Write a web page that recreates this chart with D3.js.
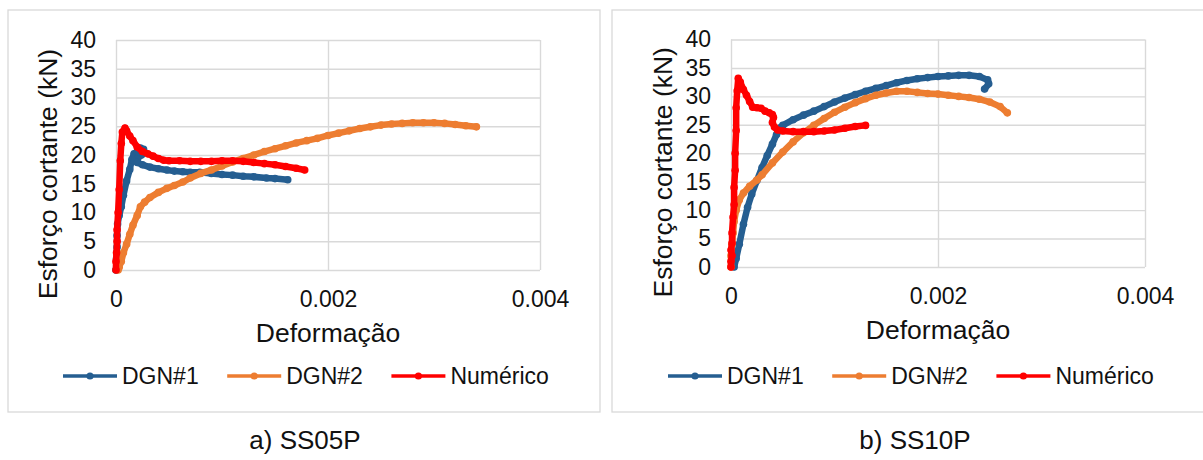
<!DOCTYPE html>
<html>
<head>
<meta charset="utf-8">
<script src="https://cdn.jsdelivr.net/npm/d3@7"></script>
<style>
  body { margin: 0; background: #fff; }
  svg { display: block; }
  text { font-family: "Liberation Sans", Arial, sans-serif; fill: #111; }
</style>
</head>
<body>
<svg id="chart" width="1203" height="460"></svg>
<script>
// ---------- DATA ----------
const seriesNames = ["DGN#1", "DGN#2", "Numérico"];
const seriesColors = ["#255e91", "#ed7d31", "#ff0000"];
const yTicks = [0, 5, 10, 15, 20, 25, 30, 35, 40];
const xTicks = [0, 0.002, 0.004];
const xTickLabels = ["0", "0.002", "0.004"];
const xTitle = "Deformação";
const yTitle = "Esforço cortante (kN)";
const captions = ["a) SS05P", "b) SS10P"];

// SS05P  [strain, kN]
const ss05_dgn1 = [[0,0],[0.000005,2],[0.00001,4],[0.00001,6],[0.000015,8],[0.00003,9.5],[0.00005,11],[0.00007,13],[0.0001,15.5],[0.00013,17.5],[0.00015,19.2],[0.00017,20.2],[0.0002,20.6],[0.00023,21.2],[0.00026,21],[0.00024,20],[0.0002,19.3],[0.00017,19],[0.0002,18.7],[0.00025,18.3],[0.00032,17.9],[0.0004,17.6],[0.00048,17.4],[0.00055,17.2],[0.00063,17.1],[0.0007,17.0],[0.00079,17.0],[0.0009,16.8],[0.001,16.6],[0.0011,16.5],[0.0012,16.3],[0.0013,16.2],[0.00142,16.0],[0.0015,15.9],[0.00162,15.7]];
const ss05_dgn2 = [[0.00002,0],[0.00003,0.5],[0.00005,1.5],[0.00007,3],[0.0001,4.5],[0.00013,6.2],[0.00016,7.8],[0.0002,9.5],[0.00023,11],[0.00027,11.8],[0.00032,12.6],[0.0004,13.5],[0.00048,14.2],[0.00055,14.7],[0.00063,15.3],[0.0007,16.0],[0.0008,16.8],[0.0009,17.4],[0.001,18.1],[0.0011,18.8],[0.0012,19.4],[0.0013,20.0],[0.0014,20.6],[0.0015,21.1],[0.0016,21.6],[0.0017,22.1],[0.0018,22.5],[0.0019,22.9],[0.002,23.4],[0.0021,23.8],[0.0022,24.2],[0.0023,24.6],[0.0024,24.9],[0.0025,25.2],[0.0026,25.4],[0.0027,25.5],[0.0028,25.6],[0.0029,25.6],[0.003,25.6],[0.0031,25.5],[0.0032,25.3],[0.0033,25.1],[0.0034,24.9]];
const ss05_num = [[0,0],[0,1.5],[0.000005,3],[0.00001,5],[0.00001,7],[0.00002,10],[0.00003,14],[0.00004,19],[0.00005,22],[0.00006,24],[0.000085,24.7],[0.0001,24.2],[0.00013,23.3],[0.00016,22.5],[0.0002,21.4],[0.00025,20.6],[0.0003,20.2],[0.00035,19.8],[0.0004,19.4],[0.00045,19.1],[0.0005,19.0],[0.0006,19.0],[0.0007,18.9],[0.0008,18.9],[0.0009,18.9],[0.001,19.0],[0.0011,19.0],[0.0012,18.9],[0.0013,18.7],[0.0014,18.5],[0.0015,18.3],[0.0016,18.0],[0.0017,17.7],[0.00178,17.4]];

// SS10P  [strain, kN]
const ss10_dgn1 = [[0.00003,0],[0.00005,1.5],[0.00008,4],[0.00012,7.5],[0.00016,10.5],[0.0002,12.8],[0.00025,15.2],[0.0003,17.5],[0.00035,19.6],[0.0004,21.6],[0.00044,23.3],[0.00048,24.5],[0.0005,24.9],[0.0006,25.9],[0.0007,26.7],[0.0008,27.4],[0.0009,28.2],[0.001,29.0],[0.0011,29.7],[0.0012,30.3],[0.0013,30.9],[0.0014,31.4],[0.0015,31.9],[0.0016,32.4],[0.0017,32.8],[0.0018,33.1],[0.0019,33.3],[0.002,33.5],[0.0021,33.6],[0.0022,33.7],[0.0023,33.7],[0.0024,33.5],[0.00248,32.9],[0.00249,32.2],[0.00245,31.3]];
const ss10_dgn2 = [[0,0],[0,2],[0.00001,4],[0.00002,6],[0.00003,8],[0.00005,10],[0.00008,11.8],[0.00012,13],[0.00018,14.2],[0.00025,15.3],[0.0003,16.2],[0.0004,18.3],[0.0005,20.2],[0.0006,22.0],[0.0007,23.6],[0.0008,24.9],[0.0009,26.1],[0.001,27.2],[0.0011,28.1],[0.0012,28.9],[0.0013,29.6],[0.0014,30.2],[0.0015,30.6],[0.0016,30.9],[0.0017,30.9],[0.0018,30.7],[0.0019,30.5],[0.002,30.4],[0.0021,30.2],[0.0022,30.0],[0.0023,29.8],[0.0024,29.5],[0.0025,29.0],[0.0026,28.2],[0.00267,27.1]];
const ss10_num = [[0,0],[0,1],[0.00001,2],[0,3],[0.00001,4.2],[0.00001,6],[0.00002,8.8],[0.00003,11],[0.00003,14],[0.00004,17],[0.00004,20],[0.00005,24],[0.00005,28],[0.00006,31],[0.00007,33.2],[0.00009,32.5],[0.00012,31.2],[0.00015,30.2],[0.00018,29.1],[0.00021,28.1],[0.00025,28.0],[0.00029,27.9],[0.00033,27.4],[0.00037,27.1],[0.0004,26.8],[0.00041,26.3],[0.0004,25.4],[0.00042,24.6],[0.00045,24.1],[0.0005,23.9],[0.0006,23.8],[0.0007,23.8],[0.0008,23.8],[0.0009,23.9],[0.001,24.1],[0.0011,24.4],[0.0012,24.7],[0.0013,24.9]];

const panels = [
  { series: [ss05_dgn1, ss05_dgn2, ss05_num], caption: captions[0],
    frame: {x: 8, y: 10, w: 592, h: 402}, px0: 116, px1: 540, py0: 270, py1: 40,
    yTitleX: 48, xTitleY: 333, legendX: 63, legendY: 376, capX: 305 },
  { series: [ss10_dgn1, ss10_dgn2, ss10_num], caption: captions[1],
    frame: {x: 612, y: 10, w: 600, h: 402}, px0: 731, px1: 1145, py0: 267, py1: 39.5,
    yTitleX: 663, xTitleY: 330, legendX: 668, legendY: 376, capX: 915 }
];

// ---------- DRAW ----------
const svg = d3.select("#chart");
const grid = "#d9d9d9";

panels.forEach(p => {
  svg.append("rect").attr("x", p.frame.x).attr("y", p.frame.y)
    .attr("width", p.frame.w).attr("height", p.frame.h)
    .attr("fill", "#fff").attr("stroke", grid).attr("stroke-width", 1.3);

  const x = d3.scaleLinear().domain([0, 0.004]).range([p.px0, p.px1]);
  const y = d3.scaleLinear().domain([0, 40]).range([p.py0, p.py1]);

  const yAxis = d3.axisLeft(y).tickValues(yTicks).tickSize(-(p.px1 - p.px0)).tickPadding(20);
  const gy = svg.append("g").attr("transform", `translate(${p.px0},0)`).call(yAxis);
  gy.select(".domain").remove();
  gy.selectAll("line").attr("stroke", grid).attr("stroke-width", 1.4);
  gy.selectAll("text").attr("font-size", 23).attr("fill", "#111")
    .attr("font-family", '"Liberation Sans", Arial, sans-serif');

  const xAxis = d3.axisBottom(x).tickValues(xTicks)
    .tickFormat((d, i) => xTickLabels[i]).tickSize(-(p.py0 - p.py1)).tickPadding(21);
  const gx = svg.append("g").attr("transform", `translate(0,${p.py0})`).call(xAxis);
  gx.select(".domain").remove();
  gx.selectAll("line").attr("stroke", grid).attr("stroke-width", 1.4);
  gx.selectAll("text").attr("font-size", 23).attr("fill", "#111")
    .attr("font-family", '"Liberation Sans", Arial, sans-serif');

  // axis titles
  svg.append("text").attr("x", (p.px0 + p.px1) / 2).attr("y", p.xTitleY).attr("dy", "0.35em")
    .attr("text-anchor", "middle").attr("font-size", 26.5).text(xTitle);
  svg.append("text").attr("transform", `translate(${p.yTitleX},${(p.py0 + p.py1) / 2 + 19}) rotate(-90)`)
    .attr("dy", "0.35em").attr("text-anchor", "middle").attr("font-size", 26.5).text(yTitle);

  // series
  const line = d3.line().x(d => x(d[0])).y(d => y(d[1]));
  p.series.forEach((data, i) => {
    const g = svg.append("g");
    g.append("path").datum(data).attr("d", line).attr("fill", "none")
      .attr("stroke", seriesColors[i]).attr("stroke-width", 6.5)
      .attr("stroke-linejoin", "round").attr("stroke-linecap", "round");
    g.selectAll("circle").data(data).join("circle")
      .attr("cx", d => x(d[0])).attr("cy", d => y(d[1])).attr("r", 3.8)
      .attr("fill", seriesColors[i]);
  });

  // legend
  let lx = p.legendX;
  seriesNames.forEach((name, i) => {
    const g = svg.append("g");
    g.append("line").attr("x1", lx).attr("x2", lx + 54).attr("y1", p.legendY).attr("y2", p.legendY)
      .attr("stroke", seriesColors[i]).attr("stroke-width", 3.5);
    g.append("circle").attr("cx", lx + 27).attr("cy", p.legendY).attr("r", 3.6).attr("fill", seriesColors[i]);
    const t = g.append("text").attr("x", lx + 59).attr("y", p.legendY).attr("dy", "0.35em")
      .attr("font-size", 23).text(name);
    lx += 59 + t.node().getComputedTextLength() + 28.5;
  });

  // caption
  svg.append("text").attr("x", p.capX).attr("y", 449).attr("text-anchor", "middle")
    .attr("font-size", 26).text(p.caption);
});
</script>
</body>
</html>
